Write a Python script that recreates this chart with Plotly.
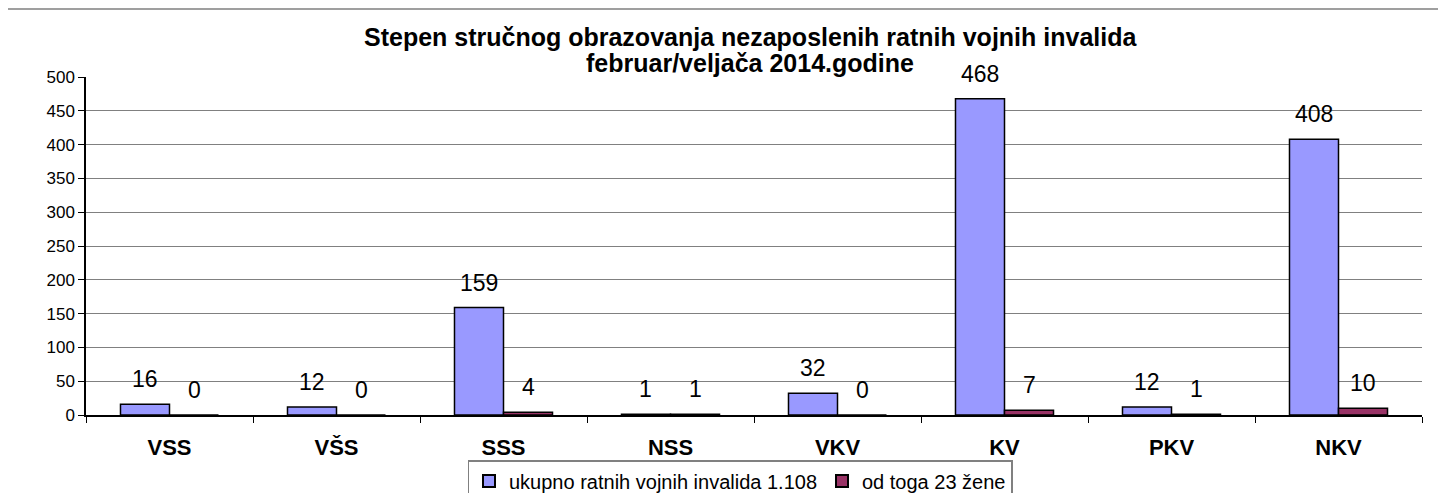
import plotly.graph_objects as go

categories = ["VSS", "VŠS", "SSS", "NSS", "VKV", "KV", "PKV", "NKV"]
ukupno = [16, 12, 159, 1, 32, 468, 12, 408]
zene = [0, 0, 4, 1, 0, 7, 1, 10]
series_names = ["ukupno ratnih vojnih invalida 1.108", "od toga 23 žene"]
colors = ["#9999FF", "#993366"]
title_lines = ["Stepen stručnog obrazovanja nezaposlenih ratnih vojnih invalida",
               "februar/veljača 2014.godine"]

FONT = "Liberation Sans, Arial, sans-serif"
OFF = 8  # browser body margin
W, H = 1446 - OFF, 493 - OFF
# plot area in page pixels: x 86..1422, y 77..415
L = 86 - OFF
T = 77 - OFF
R = W - (1422 - OFF)
B = H - (415 - OFF)
pw = W - L - R
ph = H - T - B
BARGAP = 0.413


def px_x(page_x):
    return (page_x - OFF - L) / pw


def px_y(page_y):
    return 1 - (page_y - OFF - T) / ph


fig = go.Figure()
for name, vals, col in zip(series_names, [ukupno, zene], colors):
    fig.add_trace(go.Bar(
        x=categories, y=vals, name=name,
        marker=dict(color=col, line=dict(color="black", width=1.5)),
    ))

# data labels
half = (1 - BARGAP) / 4
for s, vals in enumerate([ukupno, zene]):
    off = -half if s == 0 else half
    for i, v in enumerate(vals):
        fig.add_annotation(
            x=i + off, y=v, xref="x", yref="y", text=str(v), showarrow=False,
            yanchor="middle", yshift=25, font=dict(family=FONT, size=23, color="black"),
        )

# title lines
for line, yc in zip(title_lines, [37, 63]):
    fig.add_annotation(
        x=px_x(750), y=px_y(yc), xref="paper", yref="paper", text="<b>" + line + "</b>",
        showarrow=False, xanchor="center", yanchor="middle",
        font=dict(family=FONT, size=25, color="black"),
    )

# outer chart border
fig.add_shape(type="rect", xref="paper", yref="paper",
              x0=px_x(7), x1=px_x(1441), y0=px_y(530), y1=px_y(9),
              line=dict(color="#808080", width=1.5), fillcolor="rgba(0,0,0,0)", layer="below")

fig.update_layout(
    width=W, height=H,
    margin=dict(l=L, r=R, t=T, b=B, autoexpand=False),
    paper_bgcolor="white", plot_bgcolor="white",
    barmode="group", bargap=BARGAP, bargroupgap=0,
    font=dict(family=FONT, color="black"),
    xaxis=dict(type="category", showline=True, linecolor="black", linewidth=1.5,
               ticks="outside", ticklen=6, tickcolor="black", tickson="boundaries",
               tickfont=dict(family=FONT, size=22, color="black"), ticklabelstandoff=12,
               tickprefix="<b>", ticksuffix="</b>", showgrid=False),
    yaxis=dict(range=[0, 500], dtick=50, showline=True, linecolor="black", linewidth=1.5,
               ticks="outside", ticklen=6, tickcolor="black",
               showgrid=True, gridcolor="#808080", gridwidth=1,
               tickfont=dict(family=FONT, size=17, color="black"), zeroline=False),
    legend=dict(orientation="h", x=px_x(740), xanchor="center", y=px_y(460), yanchor="top",
                bordercolor="#808080", borderwidth=1.5,
                font=dict(family=FONT, size=20, color="black"), itemsizing="constant",
                traceorder="normal", entrywidth=0),
    showlegend=True,
)
fig.write_html("out.html")
